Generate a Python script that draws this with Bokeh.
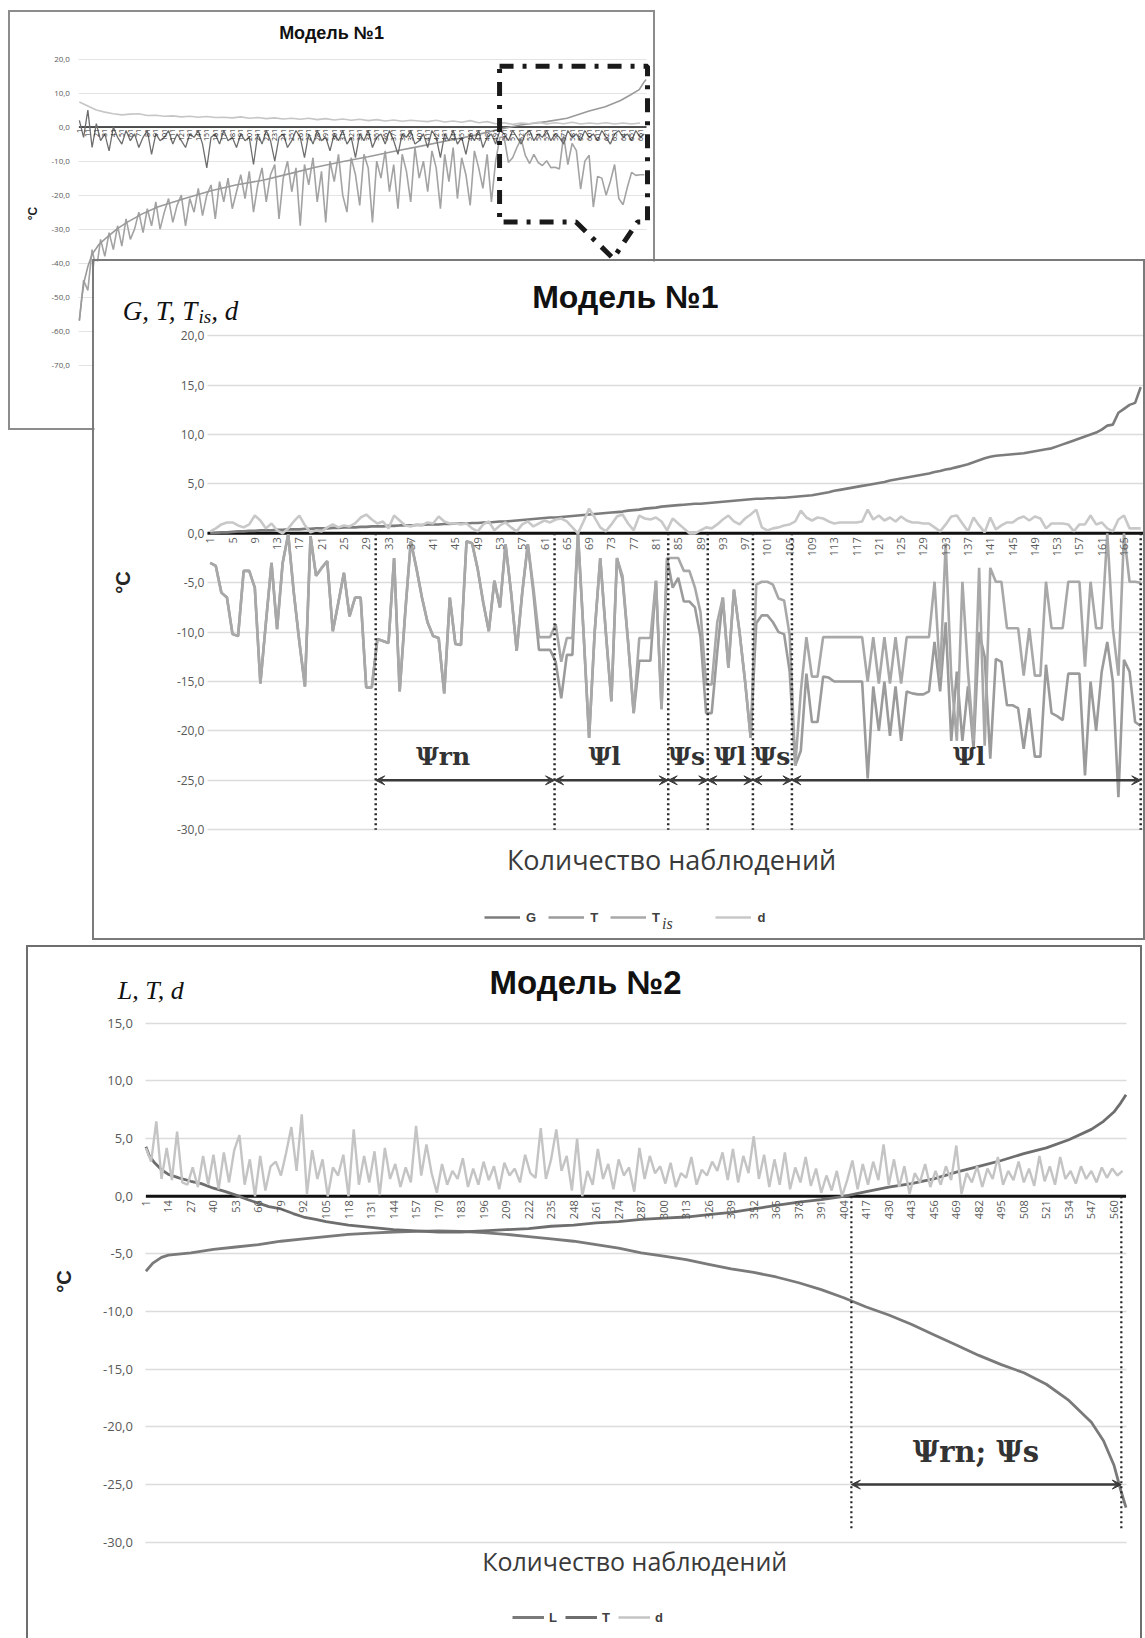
import math
from bokeh.plotting import figure
from bokeh.models import (Range1d, FixedTicker, Label, Arrow, VeeHead, Legend,
                          LegendItem, ColumnDataSource, CustomJSTickFormatter)
from bokeh.layouts import column
from bokeh.core.properties import value
from bokeh.embed import file_html
from bokeh.resources import INLINE

# ======================= DATA =======================
# ---- Inset: "Модель №1", whole sample (668 observations) ----
inset_g_x = [1, 4, 7, 11, 16, 24, 32, 45, 57, 75, 94, 125, 156, 185, 217, 250, 279, 310, 341, 372,
             403, 434, 465, 496, 520, 551, 575, 601, 620, 638, 650, 660, 665, 668]
inset_g = [-56.7, -50, -45, -41, -37.4, -34.5, -32.7, -30, -28, -25.5, -23.4, -21, -18.7, -17, -15.6,
           -13.6, -11.8, -10.2, -8.7, -7.1, -5.6, -4.0, -2.5, -0.6, 0.6, 1.6, 2.6, 4.7, 6.0, 7.8,
           9.5, 11.0, 13.0, 14.0]
inset_d_x = list(range(1, 668, 10))
inset_d = [7.4, 6.2, 5.0, 4.4, 3.9, 3.6, 3.8, 3.9, 3.4, 3.5,
           3.2, 3.3, 3.0, 3.2, 2.9, 3.1, 2.8, 2.9, 2.7, 3.0,
           2.6, 2.8, 2.5, 2.7, 2.4, 2.6, 2.3, 2.6, 2.2, 2.5,
           2.1, 2.4, 2.0, 2.3, 1.9, 2.2, 1.8, 2.1, 1.7, 2.0,
           1.8, 1.6, 2.0, 1.5, 1.8, 1.4, 1.9, 1.3, 1.6, 1.0,
           1.3, 0.8, 1.2, 1.0, 1.4, 0.9, 1.3, 1.0, 1.4, 0.9,
           1.2, 1.0, 1.3, 0.9, 1.2, 0.9, 1.2]
inset_t_x = list(range(1, 668, 5))
inset_t = [-57, -45, -48, -36, -42, -33, -38, -31, -36, -29,
           -35, -27, -33, -30, -25, -31, -24, -29, -22, -30,
           -25, -21, -28, -23, -20, -29, -21, -25, -18, -26,
           -20, -17, -27, -16, -22, -15, -24, -19, -14, -21,
           -13, -25, -17, -12, -22, -14, -11, -27, -15, -10,
           -19, -12, -29, -11, -17, -9, -22, -13, -28, -10,
           -16, -8, -20, -25, -9, -14, -23, -8, -12, -28,
           -10, -15, -7, -19, -11, -24, -8, -13, -22, -6,
           -15, -10, -19, -7, -12, -24, -8, -16, -6, -21,
           -9, -14, -23, -7, -12, -18, -8, -22, -10, -3,
           -3, -10.4, -9, -6, -3.5, -8.4, -10.7, -8, -10.4, -11.3,
           -9.9, -11.9, -11.8, -12.3, -2.5, -11, -4.8, -6.9, -18.2, -10,
           -8.3, -23.5, -14.5, -15, -20, -16, -11, -21, -22.8, -17.7,
           -13.3, -14.2, -14, -14]
inset_tis = [2, -3, 5, -6, 1, -4, -2, -7, 0, -3,
             -5, -1, -4, -2, -6, -3, -1, -8, -2, -4,
             -3, -1, -5, -2, -4, -6, -2, -3, -1, -5,
             -12, -3, -2, -5, -1, -4, -3, -6, -2, -4,
             -3, -11, -2, -5, -1, -4, -10, -3, -2, -6,
             -4, -1, -3, -9, -2, -5, -1, -4, -3, -7,
             -2, -4, -1, -5, -3, -9, -2, -4, -1, -6,
             -3, -2, -5, -1, -4, -8, -2, -3, -1, -5,
             -4, -2, -6, -1, -3, -9, -2, -4, -1, -5,
             -3, -8, -2, -4, -1, -6, -3, -2, -5, -1,
             -2, -4, -1, -3, -5, -2, -1, -4, -2, -3,
             -1, -4, -2, -3, -5, -1, -3, -2, -4, -1,
             -3, -2, -4, -1, -3, -5, -2, -1, -3, -2,
             -4, -1, -3, -2]
inset_tick_cats = list(range(1, 668, 10))
inset_tick_labels = [str(c) for c in inset_tick_cats]

# ---- "Модель №1" (zoomed part, 168 observations) ----
m1_obs = list(range(1, 169))
m1_G = [0.0, 0.05, 0.1, 0.1, 0.15, 0.2, 0.2, 0.25, 0.25, 0.3,
        0.3, 0.3, 0.35, 0.35, 0.4, 0.4, 0.4, 0.45, 0.45, 0.5,
        0.5, 0.5, 0.55, 0.55, 0.6, 0.6, 0.6, 0.65, 0.65, 0.7,
        0.7, 0.7, 0.75, 0.75, 0.8, 0.8, 0.8, 0.85, 0.85, 0.9,
        0.9, 0.9, 0.95, 0.95, 1.0, 1.0, 1.0, 1.05, 1.05, 1.1,
        1.1, 1.15, 1.2, 1.2, 1.25, 1.3, 1.35, 1.4, 1.45, 1.5,
        1.55, 1.6, 1.6, 1.65, 1.7, 1.75, 1.8, 1.85, 1.9, 1.95,
        2.0, 2.05, 2.1, 2.15, 2.2, 2.3, 2.35, 2.4, 2.5, 2.55,
        2.6, 2.7, 2.75, 2.8, 2.85, 2.9, 2.95, 3.0, 3.0, 3.05,
        3.1, 3.15, 3.2, 3.25, 3.3, 3.35, 3.4, 3.45, 3.5, 3.5,
        3.55, 3.55, 3.6, 3.6, 3.65, 3.7, 3.75, 3.8, 3.85, 3.95,
        4.05, 4.15, 4.3, 4.4, 4.5, 4.6, 4.7, 4.8, 4.9, 5.0,
        5.1, 5.2, 5.35, 5.45, 5.55, 5.65, 5.75, 5.85, 5.95, 6.05,
        6.2, 6.3, 6.45, 6.55, 6.7, 6.85, 7.0, 7.2, 7.4, 7.6,
        7.75, 7.85, 7.9, 7.95, 8.0, 8.05, 8.1, 8.2, 8.3, 8.4,
        8.5, 8.6, 8.8, 9.0, 9.2, 9.4, 9.6, 9.8, 10.0, 10.2,
        10.5, 10.9, 11.0, 12.2, 12.6, 13.0, 13.2, 14.8]
m1_T = [-3.0, -3.3, -6.0, -6.5, -10.2, -10.4, -3.8, -3.8, -5.5, -15.2,
        -9.0, -3.0, -9.7, -3.0, -0.1, -6.0, -11.0, -15.5, -0.3, -4.3,
        -3.5, -2.8, -9.9, -7.0, -4.0, -8.4, -6.5, -6.5, -15.6, -15.6,
        -10.7, -10.9, -11.1, -2.5, -16.0, -8.0, -0.8, -3.5, -6.5, -9.0,
        -10.4, -10.6, -16.2, -6.5, -11.2, -11.3, -0.8, -1.0, -3.6, -7.0,
        -9.9, -4.8, -7.5, -1.1, -6.0, -11.9, -6.0, -1.1, -6.0, -11.8,
        -11.8, -11.8, -13.0, -16.7, -12.3, -12.3, 0.0, -10.0, -20.7, -10.0,
        -2.5, -10.0, -17.0, -2.5, -4.7, -11.0, -18.2, -12.9, -12.9, -12.9,
        -4.8, -17.8, -2.5, -5.5, -4.5, -6.9, -6.9, -7.5, -10.5, -18.2,
        -18.2, -12.0, -6.5, -13.6, -5.7, -10.0, -15.0, -20.7, -9.1, -8.3,
        -8.3, -9.0, -10.0, -10.2, -14.0, -23.5, -22.0, -14.2, -19.1, -19.1,
        -14.5, -14.6, -15.0, -15.0, -15.0, -15.0, -15.0, -15.0, -24.8, -15.5,
        -20.0, -15.0, -20.5, -15.5, -21.0, -16.0, -16.2, -16.3, -16.3, -16.0,
        -11.0, -16.0, -9.0, -21.0, -14.0, -21.0, -15.5, -21.8, -10.0, -12.5,
        -22.8, -12.7, -13.0, -17.4, -17.4, -17.7, -21.8, -17.7, -22.6, -22.6,
        -13.3, -18.2, -18.5, -18.9, -14.2, -14.2, -14.2, -24.5, -15.0, -20.0,
        -14.0, -11.0, -15.0, -26.7, -12.8, -14.0, -19.1, -19.5]
m1_Tis = [-3.0, -3.3, -6.0, -6.5, -10.2, -10.4, -3.8, -3.8, -5.5, -15.2,
          -9.0, -3.0, -9.7, -3.0, -0.1, -6.0, -11.0, -15.5, -0.3, -4.3,
          -3.5, -2.8, -9.9, -7.0, -4.0, -8.4, -6.5, -6.5, -15.6, -15.6,
          -10.7, -10.9, -11.1, -2.5, -16.0, -8.0, -0.8, -3.5, -6.5, -9.0,
          -10.4, -10.6, -16.2, -6.5, -11.2, -11.3, -0.8, -1.0, -3.6, -7.0,
          -9.9, -4.8, -7.5, -1.1, -6.0, -11.9, -6.0, -1.1, -5.5, -10.5,
          -10.5, -10.5, -9.2, -13.0, -10.6, -10.6, 0.0, -10.0, -20.7, -10.0,
          -2.5, -10.0, -17.0, -2.5, -4.3, -11.0, -18.2, -10.6, -10.6, -10.6,
          -4.8, -17.8, -2.5, -2.5, -2.5, -3.8, -3.8, -5.5, -8.0, -15.3,
          -15.3, -9.0, -6.5, -13.6, -5.7, -10.0, -15.0, -20.7, -5.2, -4.9,
          -4.9, -5.2, -6.6, -6.8, -10.3, -23.5, -16.0, -10.5, -14.5, -14.5,
          -10.5, -10.5, -10.5, -10.5, -10.5, -10.5, -10.5, -10.5, -15.0, -10.5,
          -15.2, -10.5, -15.2, -10.5, -15.2, -10.5, -10.5, -10.5, -10.5, -10.5,
          -4.9, -14.4, -1.0, -14.5, -21.0, -4.9, -14.0, -21.0, -3.5, -21.5,
          -3.5, -4.9, -4.9, -9.6, -9.6, -9.6, -14.4, -9.6, -14.4, -14.4,
          -4.9, -9.6, -9.6, -9.6, -4.9, -4.9, -4.9, -13.5, -4.9, -9.6,
          -9.6, 0.0, -9.6, -14.4, 0.0, -4.9, -4.9, -5.0]
m1_d = [0.2, 0.5, 0.9, 1.1, 1.1, 0.8, 0.6, 0.9, 1.8, 1.3,
        0.5, 1.0, 0.3, 0.0, 0.5, 1.2, 1.8, 0.8, 0.1, 0.3,
        0.2, 0.6, 0.9, 0.6, 0.8, 0.7, 1.0, 1.6, 1.9, 1.4,
        1.0, 1.2, 0.5, 1.8, 1.3, 0.8, 0.7, 0.9, 0.8, 1.1,
        1.0, 1.7, 1.2, 1.0, 1.0, 0.9, 1.0, 0.5, 0.2, 0.9,
        1.2, 0.3, 0.8, 1.1, 0.6, 0.2, 0.9, 1.2, 0.7, 1.0,
        1.3, 1.1, 1.4, 1.5, 1.2, 0.6, 0.0, 1.2, 2.5, 1.6,
        0.6, 0.2, 0.9, 1.7, 1.9, 1.0, 0.3, 1.8, 1.5, 1.4,
        1.6, 1.2, 0.3, 1.5, 1.0, 0.5, 0.0, 0.0, 0.3, 0.6,
        0.5, 0.9, 1.4, 1.8, 1.2, 0.9, 1.5, 1.9, 2.4, 0.6,
        0.3, 0.5, 0.6, 0.8, 0.9, 1.2, 2.3, 1.6, 1.3, 1.6,
        1.5, 1.2, 1.0, 1.1, 1.1, 1.1, 1.1, 1.2, 2.4, 1.4,
        1.8, 1.3, 1.6, 1.2, 1.7, 1.3, 1.1, 1.1, 1.0, 1.0,
        0.6, 0.2, 0.9, 1.7, 1.8, 1.0, 0.2, 1.6, 0.8, 0.1,
        1.6, 0.4, 0.8, 1.1, 1.1, 1.5, 1.7, 1.3, 1.7, 1.5,
        0.5, 1.0, 1.0, 1.0, 0.9, 0.2, 0.9, 0.9, 1.8, 0.9,
        1.1, 0.5, 0.2, 1.4, 1.8, 0.5, 0.5, 0.5]
m1_tick_cats = list(range(1, 169, 4))
m1_tick_labels = [str(c) for c in m1_tick_cats]
m1_bounds = [30.7, 62.8, 83.2, 90.3, 98.4, 105.4, 168.0]
m1_zone_names = ["Ψrn", "Ψl", "Ψs", "Ψl", "Ψs", "Ψl"]
m1_zone_label_x = [42.8, 71.8, 86.5, 94.3, 101.8, 137.2]

# ---- "Модель №2" (567 observations) ----
m2_L_x = [1, 5, 10, 14, 27, 40, 53, 66, 79, 92, 105, 118, 131, 144, 157, 170, 183, 196, 209, 222,
          235, 248, 261, 274, 287, 300, 313, 326, 339, 352, 365, 378, 391, 404, 417, 430, 443, 456,
          469, 482, 495, 508, 521, 534, 547, 554, 560, 564, 567]
m2_L = [-6.5, -5.8, -5.3, -5.1, -4.9, -4.6, -4.4, -4.2, -3.9, -3.7, -3.5, -3.3, -3.2, -3.1, -3.05,
        -3.0, -3.05, -3.15, -3.3, -3.5, -3.7, -3.9, -4.2, -4.5, -4.9, -5.2, -5.5, -5.9, -6.3, -6.6,
        -7.0, -7.5, -8.1, -8.8, -9.6, -10.3, -11.1, -12.0, -12.9, -13.8, -14.6, -15.3, -16.3, -17.7,
        -19.6, -21.2, -23.3, -25.5, -27.0]
m2_T_x = [1, 3, 6, 10, 14, 20, 27, 33, 40, 47, 53, 60, 66, 72, 79, 86, 92, 99, 105, 118,
          131, 144, 157, 170, 183, 196, 209, 222, 235, 248, 261, 274, 287, 300, 313, 326, 339, 352,
          365, 378, 391, 404, 417, 430, 443, 456, 469, 482, 495, 508, 521, 534, 547, 554, 560, 564, 567]
m2_T = [4.3, 3.5, 2.9, 2.3, 1.9, 1.6, 1.3, 1.1, 0.7, 0.4, 0.1, -0.3, -0.6, -0.9, -1.1, -1.5, -1.8,
        -2.0, -2.2, -2.5, -2.7, -2.9, -3.0, -3.1, -3.1, -3.0, -2.9, -2.8, -2.6, -2.5, -2.3, -2.2,
        -2.0, -1.9, -1.8, -1.6, -1.4, -1.1, -0.8, -0.5, -0.3, 0.0, 0.4, 0.8, 1.1, 1.5, 2.1, 2.6,
        3.1, 3.7, 4.2, 4.9, 5.8, 6.5, 7.3, 8.1, 8.8]
m2_d_x = list(range(1, 566, 3))
m2_d = [4.2, 3.0, 6.5, 1.5, 4.2, 1.4, 5.6, 1.2, 1.0, 2.5,
        0.8, 3.5, 1.0, 3.6, 0.6, 3.8, 1.2, 4.0, 5.3, 1.0,
        3.2, 0.0, 3.5, 0.5, 2.6, 3.0, 1.8, 3.8, 6.0, 2.2,
        7.1, 0.2, 4.0, 1.5, 3.2, 0.0, 2.5, 1.8, 3.6, 0.0,
        5.8, 1.0, 3.5, 1.2, 3.9, 0.1, 4.2, 1.5, 2.8, 0.8,
        2.5, 1.2, 6.1, 1.8, 4.5, 2.0, 0.3, 2.8, 1.0, 2.2,
        1.5, 3.3, 0.8, 2.4, 1.0, 3.0, 1.4, 2.6, 0.6, 2.9,
        1.8, 2.4, 1.2, 3.6, 2.0, 1.6, 5.9, 1.5, 3.2, 5.8,
        2.2, 3.5, 0.5, 5.0, 0.0, 2.2, 1.0, 4.1, 1.5, 2.8,
        0.6, 3.2, 1.8, 2.5, 0.4, 4.2, 1.5, 3.5, 2.0, 2.6,
        1.1, 2.9, 0.8, 2.0, 1.6, 3.4, 1.0, 2.3, 1.8, 3.0,
        2.2, 3.8, 1.4, 4.1, 1.2, 3.5, 2.0, 5.2, 1.5, 3.6,
        0.8, 3.2, 1.0, 3.8, 0.6, 2.5, 1.2, 3.4, 0.9, 2.4,
        0.3, 1.8, 0.5, 2.2, 0.0, 1.4, 3.1, 0.6, 2.8, 1.0,
        3.0, 1.4, 4.5, 1.0, 3.2, 0.8, 2.6, 0.2, 2.0, 1.2,
        2.8, 0.8, 2.2, 1.0, 2.6, 1.4, 4.4, 0.2, 2.0, 1.2,
        2.6, 0.8, 2.4, 1.5, 3.4, 1.0, 2.2, 1.4, 3.0, 1.2,
        2.4, 0.9, 3.5, 1.3, 2.6, 1.0, 3.4, 1.5, 2.2, 1.1,
        2.6, 1.5, 2.2, 1.2, 2.5, 1.6, 2.4, 1.8, 2.2]
m2_tick_cats = list(range(1, 561, 13))
m2_tick_labels = [str(c) for c in m2_tick_cats]
m2_bounds = [408.4, 564.3]

# ======================= STYLE =======================
FONT_AX = "Open Sans"
FONT_TITLE = "Liberation Sans"
FONT_MATH = "Liberation Serif"
FONT_PSI = "DejaVu Serif"


def base_fig(w, h, xr, yr, yticks, ylab_size, x0, x1, standoff):
    """Frame fills the whole canvas; the plot area (x0..x1) is set through the ranges."""
    p = figure(width=w, height=h, x_range=Range1d(*xr), y_range=Range1d(*yr),
               output_backend="svg", toolbar_location=None, x_axis_location=None,
               y_axis_location="left", title=None, min_border=0)
    p.outline_line_color = None
    p.background_fill_color = "white"
    p.border_fill_color = "white"
    p.xgrid.visible = False
    p.ygrid.ticker = FixedTicker(ticks=yticks)
    p.ygrid.cross_bounds = (x0, x1)
    p.ygrid.grid_line_color = "#dcdcdc"
    p.ygrid.grid_line_width = 1.5
    ax = p.yaxis[0]
    ax.fixed_location = x0
    ax.ticker = FixedTicker(ticks=yticks)
    ax.formatter = CustomJSTickFormatter(code="return tick.toFixed(1).replace('.', ',');")
    ax.axis_line_color = None
    ax.major_tick_line_color = None
    ax.minor_tick_line_color = None
    ax.major_tick_out = 0
    ax.major_tick_in = 0
    ax.minor_tick_out = 0
    ax.major_label_standoff = standoff
    ax.major_label_text_font = FONT_AX
    ax.major_label_text_font_size = ylab_size
    ax.major_label_text_color = "#595959"
    return p


def cat_labels(p, cats, labels, size, color, offset):
    src = ColumnDataSource(dict(x=cats, y=[0] * len(cats), t=labels))
    p.text(x="x", y="y", text="t", source=src, angle=math.pi / 2, text_align="right",
           text_baseline="middle", y_offset=offset, text_font=value(FONT_AX),
           text_font_size=size, text_color=color)


def txt(p, x, y, text, font, size, style="normal", color="#111111", align="center",
        baseline="middle", angle=0.0):
    p.add_layout(Label(x=x, y=y, text=text, text_align=align, text_baseline=baseline,
                       text_font=font, text_font_style=style, text_font_size=size,
                       text_color=color, angle=angle))


# (figure sizes include the 2px CSS borders: the canvases are 643x416, 1049x677, 1112x691)

# ======================= INSET (top-left) =======================
pA = base_fig(647, 420, (-80.04, 681.5), (-89.76, 33.68), list(range(-70, 21, 10)), "8px",
              0.5, 668.5, 9)
pA.ygrid.grid_line_width = 1
pA.ygrid.grid_line_color = "#e4e4e4"
pA.segment(x0=[0.5], y0=[0], x1=[668.5], y1=[0], line_color="#1a1a1a", line_width=1.5)
pA.line(inset_t_x, inset_t, line_color="#a3a3a3", line_width=1.6)
pA.line(inset_g_x, inset_g, line_color="#9a9a9a", line_width=1.6)
pA.line(inset_t_x, inset_tis, line_color="#6e6e6e", line_width=1.3)
pA.line(inset_d_x, inset_d, line_color="#c6c6c6", line_width=1.6)
cat_labels(pA, inset_tick_cats, inset_tick_labels, "7px", "#2a2a2a", 2)
txt(pA, 297.8, 27.7, "Модель №1", FONT_TITLE, "18px", "bold")
txt(pA, -54, -25.4, "°C", FONT_TITLE, "12px", "bold", "#262626", angle=math.pi / 2)
# dash-dot callout frame pointing to the enlarged chart
pA.line([495.6, 669.7, 669.7, 657.9, 629.4, 585.6, 495.6, 495.6],
        [17.9, 17.9, -27.9, -27.9, -38.6, -27.9, -27.9, 17.9],
        line_color="#1a1a1a", line_width=5, line_dash="14 9 4 9")

# ======================= МОДЕЛЬ №1 =======================
pB = base_fig(1053, 681, (-19.77, 169.22), (-41.41, 27.51), list(range(-30, 21, 5)), "12px",
              0.5, 168.5, 3)
pB.segment(x0=[0.5], y0=[0], x1=[168.5], y1=[0], line_color="#111111", line_width=3)
rG = pB.line(m1_obs, m1_G, line_color="#7c7c7c", line_width=2.6)
rT = pB.line(m1_obs, m1_T, line_color="#9b9b9b", line_width=2.6)
rTis = pB.line(m1_obs, m1_Tis, line_color="#a8a8a8", line_width=2.6)
rd = pB.line(m1_obs, m1_d, line_color="#c8c8c8", line_width=2.6)
cat_labels(pB, m1_tick_cats, m1_tick_labels, "11px", "#595959", 4)

pB.segment(x0=m1_bounds, y0=[0] * len(m1_bounds), x1=m1_bounds, y1=[-30] * len(m1_bounds),
           line_color="#262626", line_width=2.5, line_dash="2 3")
for a, b in zip(m1_bounds[:-1], m1_bounds[1:]):
    pB.add_layout(Arrow(x_start=a, y_start=-25, x_end=b, y_end=-25, line_color="#3a3a3a",
                        line_width=2.5,
                        start=VeeHead(size=9, fill_color="#3a3a3a", line_color="#3a3a3a"),
                        end=VeeHead(size=9, fill_color="#3a3a3a", line_color="#3a3a3a")))
for name, xc in zip(m1_zone_names, m1_zone_label_x):
    txt(pB, xc, -22.6, name, FONT_PSI, "25px", "bold", "#333333")

txt(pB, 75.5, 23.9, "Модель №1", FONT_TITLE, "32px", "bold")
txt(pB, -14.7, 22.5, "G, T, T", FONT_MATH, "27px", "italic", align="left", baseline="alphabetic")
txt(pB, -1.1, 21.9, "is", FONT_MATH, "19px", "italic", align="left", baseline="alphabetic")
txt(pB, 1.2, 22.5, ", d", FONT_MATH, "27px", "italic", align="left", baseline="alphabetic")
txt(pB, -14.7, -4.97, "°C", FONT_TITLE, "20px", "bold", "#262626", angle=math.pi / 2)
txt(pB, 83.8, -33.0, "Количество наблюдений", FONT_AX, "27px", color="#3a3a3a")
legB = Legend(items=[LegendItem(label="G", renderers=[rG]),
                     LegendItem(label="T", renderers=[rT]),
                     LegendItem(label="T" + "\u00a0" * 12, renderers=[rTis]),
                     LegendItem(label="d", renderers=[rd])],
              orientation="horizontal", location=(390, 16), glyph_width=36, glyph_height=18,
              label_width=0, label_standoff=6, spacing=12, padding=0, margin=0,
              border_line_color=None, background_fill_alpha=0, label_text_font=FONT_TITLE,
              label_text_font_style="bold", label_text_font_size="13px",
              label_text_color="#404040")
pB.add_layout(legB)
txt(pB, 82.1, -39.5, "is", FONT_MATH, "16px", "italic", "#404040", align="left",
    baseline="alphabetic")

# ======================= МОДЕЛЬ №2 =======================
pC = base_fig(1116, 693, (-66.81, 577.68), (-38.52, 21.57), list(range(-30, 16, 5)), "13px",
              1, 567, 13)
pC.segment(x0=[1], y0=[0], x1=[567], y1=[0], line_color="#111111", line_width=3)
rL = pC.line(m2_L_x, m2_L, line_color="#7a7a7a", line_width=2.8)
rT2 = pC.line(m2_T_x, m2_T, line_color="#6e6e6e", line_width=2.8)
rd2 = pC.line(m2_d_x, m2_d, line_color="#c4c4c4", line_width=2.4)
cat_labels(pC, m2_tick_cats, m2_tick_labels, "11px", "#595959", 4)
pC.segment(x0=m2_bounds, y0=[0] * len(m2_bounds), x1=m2_bounds, y1=[-29] * len(m2_bounds),
           line_color="#262626", line_width=2.2, line_dash="2 3")
pC.add_layout(Arrow(x_start=m2_bounds[0], y_start=-25, x_end=m2_bounds[1], y_end=-25,
                    line_color="#3a3a3a", line_width=2.5,
                    start=VeeHead(size=9, fill_color="#3a3a3a", line_color="#3a3a3a"),
                    end=VeeHead(size=9, fill_color="#3a3a3a", line_color="#3a3a3a")))
txt(pC, 480.3, -22.2, "Ψrn; Ψs", FONT_PSI, "29px", "bold", "#333333")
txt(pC, 254.9, 18.5, "Модель №2", FONT_TITLE, "33px", "bold")
txt(pC, -15.2, 17.8, "L, T, d", FONT_MATH, "26px", "italic", align="left", baseline="alphabetic")
txt(pC, -46.5, -7.4, "°C", FONT_TITLE, "20px", "bold", "#262626", angle=math.pi / 2)
txt(pC, 283.3, -31.65, "Количество наблюдений", FONT_AX, "25px", color="#3a3a3a")
legC = Legend(items=[LegendItem(label="L", renderers=[rL]),
                     LegendItem(label="T", renderers=[rT2]),
                     LegendItem(label="d", renderers=[rd2])],
              orientation="horizontal", location=(484, 14), glyph_width=32, glyph_height=18,
              label_width=0, label_standoff=5, spacing=8, padding=0, margin=0,
              border_line_color=None, background_fill_alpha=0, label_text_font=FONT_TITLE,
              label_text_font_style="bold", label_text_font_size="13px",
              label_text_color="#404040")
pC.add_layout(legC)

# ======================= LAYOUT =======================
pA.styles = {"border": "2px solid #8c8c8c"}
pA.margin = (10, 0, 0, 8)
pB.styles = {"border": "2px solid #7a7a7a"}
pB.margin = (-171, 0, 0, 92)
pC.styles = {"border-top": "2px solid #6e6e6e", "border-left": "2px solid #6e6e6e",
             "border-right": "2px solid #6e6e6e"}
pC.margin = (5, 0, 0, 26)

layout = column(pA, pB, pC, spacing=0)
open("out.html", "w").write(file_html(layout, INLINE, title="Модель №1, Модель №2"))
